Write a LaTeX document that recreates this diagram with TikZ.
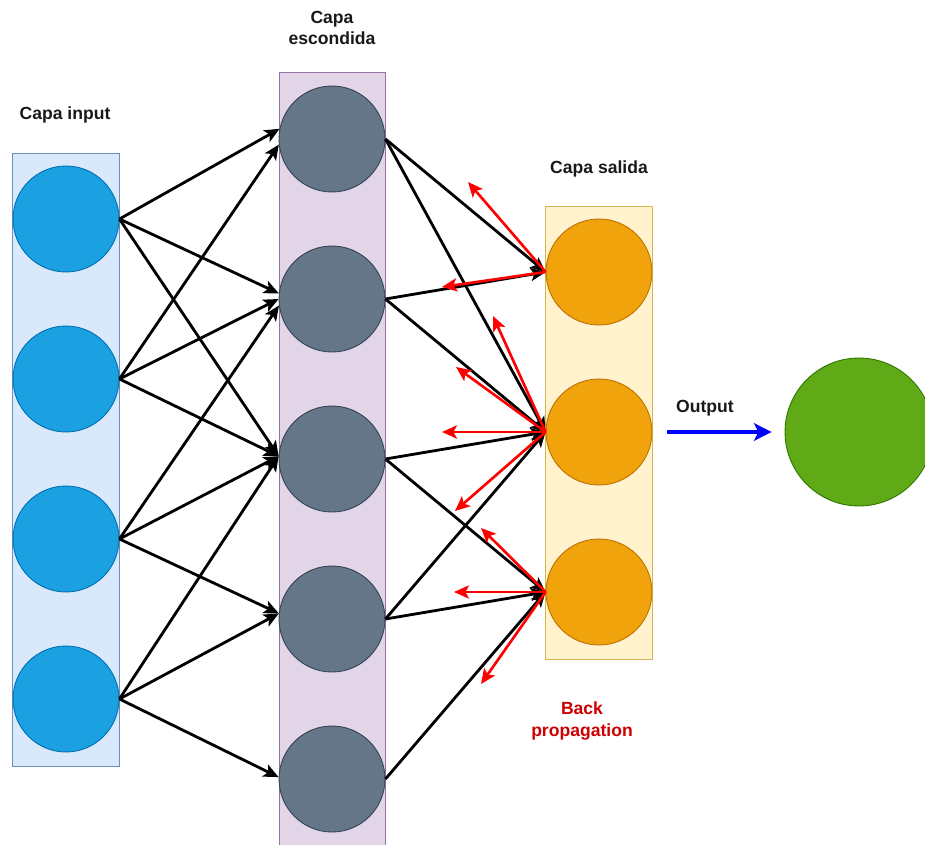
\documentclass[tikz,border=0pt]{standalone}
\usepackage{fontspec}
\setsansfont{Liberation Sans}
\usepackage{tikz}
\usetikzlibrary{arrows.meta}
\usepackage{xcolor}

\definecolor{inblue}{HTML}{1BA1E2}
\definecolor{inblueline}{HTML}{006EAF}
\definecolor{hidgray}{HTML}{647687}
\definecolor{hidgrayline}{HTML}{314354}
\definecolor{outorange}{HTML}{F0A30A}
\definecolor{outorangeline}{HTML}{BD7000}
\definecolor{resgreen}{HTML}{60A917}
\definecolor{resgreenline}{HTML}{2D7600}
\definecolor{inboxfill}{HTML}{DAE8FC}
\definecolor{inboxline}{HTML}{6C8EBF}
\definecolor{hidboxfill}{HTML}{E1D5E7}
\definecolor{hidboxline}{HTML}{9673A6}
\definecolor{outboxfill}{HTML}{FFF2CC}
\definecolor{outboxline}{HTML}{D6B656}
\definecolor{backred}{HTML}{FF0000}
\definecolor{backtext}{HTML}{CC0000}

\tikzset{
  neuron/.style={circle, minimum size=2.12cm, inner sep=0pt, line width=0.5pt},
  layertitle/.style={font=\sffamily\bfseries\fontsize{10}{12}\selectfont, align=center, text=black!90},
  conn/.style={-{Stealth[length=8.5pt,width=7.5pt,inset=2pt]}, line width=1.6pt, black},
  backarrow/.style={-{Stealth[length=8.5pt,width=7.5pt,inset=2pt]}, line width=1.5pt, backred},
}

\begin{document}
\begin{tikzpicture}[x=0.02cm,y=-0.02cm]
\useasboundingbox (0,0) rectangle (925,844);
\clip (0,0) rectangle (925,844);

%layer boxes
\draw[fill=inboxfill, draw=inboxline, line width=0.5pt] (12,153) rectangle (119,766);
\draw[fill=hidboxfill, draw=hidboxline, line width=0.5pt] (279,72) rectangle (385,870);
\draw[fill=outboxfill, draw=outboxline, line width=0.5pt] (545,206) rectangle (652,659);

%input neurons
\node[neuron, fill=inblue, draw=inblueline] (in1) at (66,219) {};
\node[neuron, fill=inblue, draw=inblueline] (in2) at (66,379) {};
\node[neuron, fill=inblue, draw=inblueline] (in3) at (66,539) {};
\node[neuron, fill=inblue, draw=inblueline] (in4) at (66,699) {};

%hidden neurons
\node[neuron, fill=hidgray, draw=hidgrayline] (h1) at (332,139) {};
\node[neuron, fill=hidgray, draw=hidgrayline] (h2) at (332,299) {};
\node[neuron, fill=hidgray, draw=hidgrayline] (h3) at (332,459) {};
\node[neuron, fill=hidgray, draw=hidgrayline] (h4) at (332,619) {};
\node[neuron, fill=hidgray, draw=hidgrayline] (h5) at (332,779) {};

%output neurons
\node[neuron, fill=outorange, draw=outorangeline] (o1) at (599,272) {};
\node[neuron, fill=outorange, draw=outorangeline] (o2) at (599,432) {};
\node[neuron, fill=outorange, draw=outorangeline] (o3) at (599,592) {};

\node[neuron, minimum size=2.96cm, fill=resgreen, draw=resgreenline] (res) at (859,432) {};

%input to hidden
\draw[conn] (in1.east) -- (h1.169);
\draw[conn] (in1.east) -- (h2.174);
\draw[conn] (in1.east) -- (h3.177);

\draw[conn] (in2.east) -- (h1.186);
\draw[conn] (in2.east) -- (h2.180);
\draw[conn] (in2.east) -- (h3.177);

\draw[conn] (in3.east) -- (h2.187);
\draw[conn] (in3.east) -- (h3.177);
\draw[conn] (in3.east) -- (h4.174);

\draw[conn] (in4.east) -- (h3.177);
\draw[conn] (in4.east) -- (h4.174);
\draw[conn] (in4.east) -- (h5.178);

%hidden to output
\draw[conn] (h1.east) -- (o1.west);
\draw[conn] (h1.east) -- (o2.west);
\draw[conn] (h2.east) -- (o1.west);
\draw[conn] (h2.east) -- (o2.west);
\draw[conn] (h3.east) -- (o2.west);
\draw[conn] (h3.east) -- (o3.west);
\draw[conn] (h4.east) -- (o2.west);
\draw[conn] (h4.east) -- (o3.west);
\draw[conn] (h5.east) -- (o3.west);

%back propagation
\coordinate (b1) at (468,182);
\coordinate (b2) at (442,287);
\coordinate (b3) at (493,316);
\coordinate (b4) at (456,367);
\coordinate (b5) at (442,432);
\coordinate (b6) at (455,511);
\coordinate (b7) at (481,528);
\coordinate (b8) at (454,592);
\coordinate (b9) at (481,684);

\draw[backarrow] (o1.west) -- (b1);
\draw[backarrow] (o1.west) -- (b2);
\draw[backarrow] (o2.west) -- (b3);
\draw[backarrow] (o2.west) -- (b4);
\draw[backarrow] (o2.west) -- (b5);
\draw[backarrow] (o2.west) -- (b6);
\draw[backarrow] (o3.west) -- (b7);
\draw[backarrow] (o3.west) -- (b8);
\draw[backarrow] (o3.west) -- (b9);

%result
\draw[-{Stealth[length=10pt,width=10pt,inset=2.5pt]}, blue, line width=2.3pt, shorten <=8.5pt, shorten >=7.4pt] (o2.east) -- (res.west);

%titles
\node[layertitle] (tin) at (65,115) {Capa input};
\node[layertitle] (thid) at (332,28) {Capa\\escondida};
\node[layertitle] (tout) at (599,169) {Capa salida};
\node[layertitle] (tres) at (705,408) {Output};
\node[layertitle, text=backtext] (tback) at (582,721) {Back\\propagation};

\end{tikzpicture}
\end{document}
